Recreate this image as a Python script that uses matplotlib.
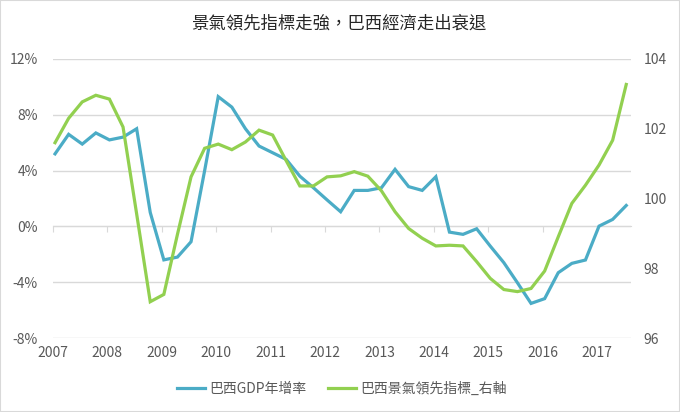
import numpy as np
import matplotlib.pyplot as plt
from matplotlib.patches import Rectangle

plt.rcParams['font.family'] = ['Noto Sans CJK TC', 'DejaVu Sans']

title = '景氣領先指標走強，巴西經濟走出衰退'
years = [str(y) for y in range(2007, 2018)]
gdp_label = '巴西GDP年增率'
lead_label = '巴西景氣領先指標_右軸'

# quarterly, 2007Q1 .. 2017Q3
gdp = [5.2, 6.6, 5.9, 6.7, 6.2, 6.4, 7.0, 1.0, -2.4, -2.2, -1.1, 4.0,
       9.3, 8.55, 7.0, 5.76, 5.28, 4.8, 3.6, 2.77, 1.9, 1.05, 2.58, 2.58,
       2.77, 4.09, 2.85, 2.58, 3.56, -0.41, -0.57, -0.17, -1.41, -2.6, -4.04,
       -5.52, -5.18, -3.32, -2.65, -2.41, 0.02, 0.5, 1.5]
lead = [101.6, 102.3, 102.77, 102.96, 102.85, 102.05, 99.56, 97.04, 97.25,
        98.97, 100.62, 101.44, 101.56, 101.4, 101.62, 101.96, 101.82, 101.08,
        100.36, 100.36, 100.62, 100.65, 100.77, 100.64, 100.22, 99.62, 99.14,
        98.86, 98.64, 98.66, 98.64, 98.19, 97.71, 97.39, 97.33, 97.42, 97.92,
        98.9, 99.86, 100.38, 100.96, 101.67, 103.27]

teal = '#4BACC6'
green = '#92D050'
grid = '#d9d9d9'
txt = '#595959'

fig = plt.figure(figsize=(6.8, 4.12), dpi=100)
ax = fig.add_axes([53 / 680, 1 - 338 / 412, (631 - 53) / 680, (338 - 59) / 412])
ax2 = ax.twinx()

x = np.arange(len(gdp))
ax.plot(x, gdp, color=teal, lw=2.3, solid_joinstyle='miter', zorder=3)
ax2.plot(x, lead, color=green, lw=2.3, solid_joinstyle='miter', zorder=3)

ax.set_xlim(-0.15, 42.35)
ax.set_ylim(-8, 12)
ax2.set_ylim(96, 104)
ax.set_yticks(range(-8, 13, 4))
ax.set_yticklabels([f'{v}%' for v in range(-8, 13, 4)])
ax2.set_yticks(range(96, 105, 2))

ax.grid(axis='y', color=grid, lw=1)
ax.set_axisbelow(True)

for a in (ax, ax2):
    for s in ('top', 'left', 'right'):
        a.spines[s].set_visible(False)
ax2.spines['bottom'].set_visible(False)

# year ticks sit on the 0% line, labels at the bottom
ticks = np.arange(len(years)) * 4 - 0.15
ax.spines['bottom'].set_position(('data', 0))
ax.spines['bottom'].set_color(grid)
ax.set_xticks(ticks)
ax.tick_params(axis='x', length=4, color=grid, labelbottom=False)
sec = ax.secondary_xaxis('bottom')
sec.set_xticks(ticks, labels=years)
sec.spines['bottom'].set_visible(False)
sec.tick_params(length=0, pad=6, labelsize=10, colors=txt)

ax.tick_params(axis='y', length=0, pad=11, labelsize=10, colors=txt)
ax2.tick_params(axis='y', length=0, pad=9, labelsize=10, colors=txt)

fig.text(339 / 680, 1 - 24 / 412, title, ha='center', va='center',
         fontsize=12.5, color='#262626')

h1 = plt.Line2D([], [], color=teal, lw=2.3)
h2 = plt.Line2D([], [], color=green, lw=2.3)
fig.legend([h1, h2], [gdp_label, lead_label], loc='center',
           bbox_to_anchor=(342 / 680, 1 - 389 / 412), ncol=2, frameon=False,
           fontsize=10, labelcolor=txt, handlelength=2.0, handletextpad=0.3,
           columnspacing=1.6)

fig.patches.append(Rectangle((0, 0), 1, 1, transform=fig.transFigure,
                             fill=False, edgecolor=grid, lw=1.5))

fig.savefig('out.png', dpi=100)
